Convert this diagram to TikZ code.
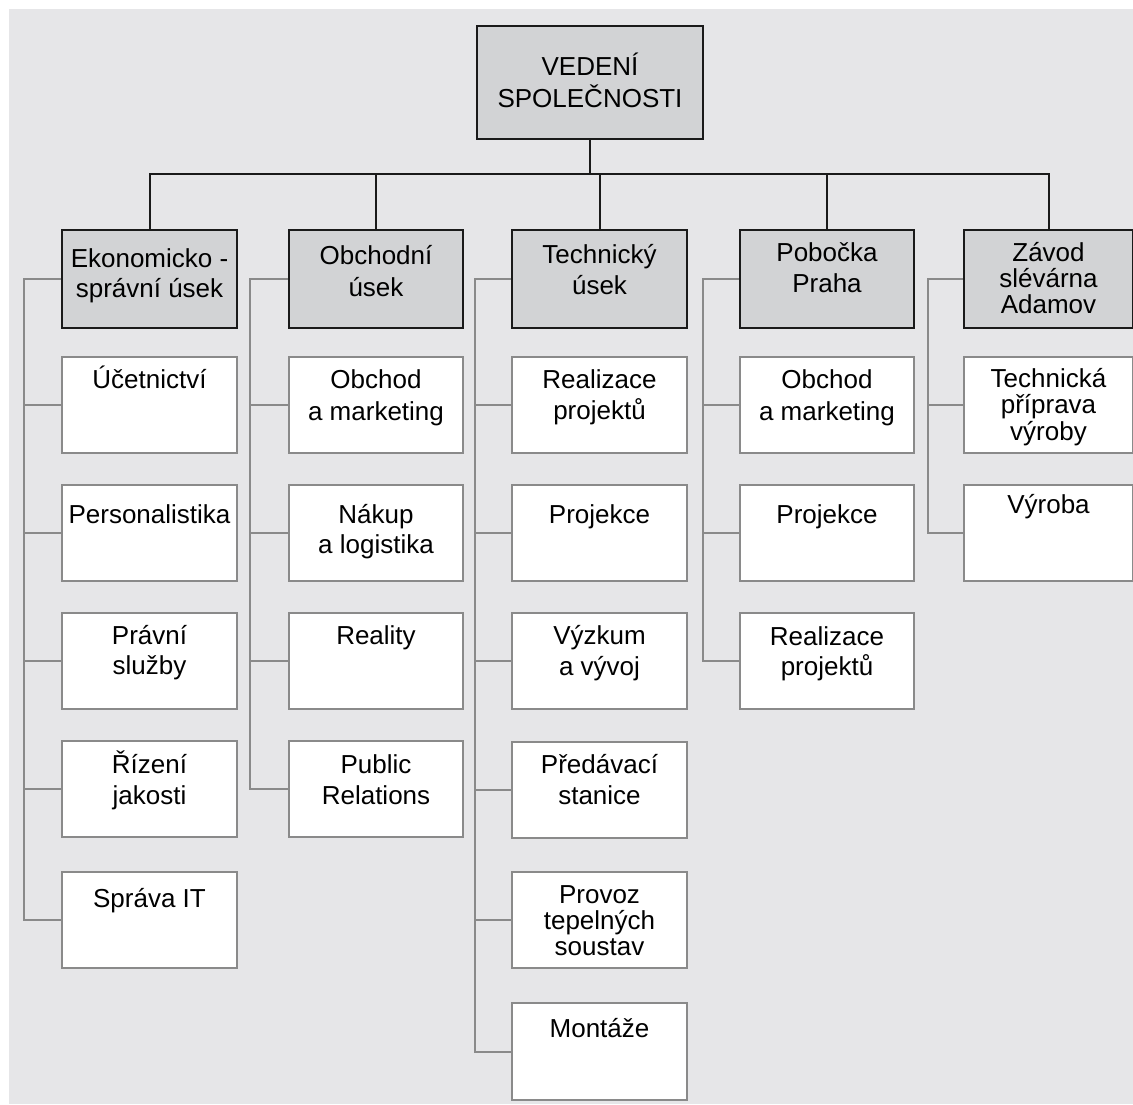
\documentclass[tikz,border=0pt]{standalone}
\usepackage{fontspec}
\setmainfont{Liberation Sans}
\definecolor{bggrey}{HTML}{E6E6E8}
\definecolor{hdfill}{HTML}{D2D3D5}
\definecolor{lgrey}{HTML}{8A8A8A}
\definecolor{dark}{HTML}{1A1A1A}
% #1 height, #2 width, #3 first baseline, #4 line spacing, #5 text
\newcommand{\tb}[5]{\parbox[t][#1][t]{#2}{\centering\fontsize{26pt}{#4}\selectfont\rule{0pt}{#3}#5}}
\begin{document}
\begin{tikzpicture}[x=1pt,y=-1pt,
  hbox/.style={draw=dark, fill=hdfill, line width=2pt, inner sep=0pt, anchor=north west},
  cbox/.style={draw=lgrey, fill=white, line width=2pt, inner sep=0pt, anchor=north west},
  mainline/.style={draw=dark, line width=2pt},
  brline/.style={draw=lgrey, line width=2pt}]
\useasboundingbox (0,0) rectangle (1133,1104);
\fill[bggrey] (9,9) rectangle (1133,1104);

% top
\node[hbox] (top) at (476,25) {\tb{113pt}{226pt}{49pt}{32pt}{VEDENÍ\\SPOLEČNOSTI}};

% level 1
\node[hbox] (e) at (61,229)  {\tb{98pt}{175pt}{37pt}{30pt}{Ekonomicko -\\správní úsek}};
\node[hbox] (o) at (288,229) {\tb{98pt}{174pt}{34pt}{32pt}{Obchodní\\úsek}};
\node[hbox] (t) at (511,229) {\tb{98pt}{175pt}{33pt}{31pt}{Technický\\úsek}};
\node[hbox] (p) at (739,229) {\tb{98pt}{174pt}{31pt}{31pt}{Pobočka\\Praha}};
\node[hbox] (z) at (963,229) {\tb{98pt}{169pt}{31pt}{26pt}{Závod\\slévárna\\Adamov}};

% Ekonomicko-správní úsek
\node[cbox] (e1) at (61,356) {\tb{96pt}{175pt}{31pt}{31pt}{Účetnictví}};
\node[cbox] (e2) at (61,484) {\tb{96pt}{175pt}{38pt}{31pt}{Personalistika}};
\node[cbox] (e3) at (61,612) {\tb{96pt}{175pt}{31pt}{30pt}{Právní\\služby}};
\node[cbox] (e4) at (61,740) {\tb{96pt}{175pt}{32pt}{31pt}{Řízení\\jakosti}};
\node[cbox] (e5) at (61,871) {\tb{96pt}{175pt}{35pt}{31pt}{Správa IT}};

% Obchodní úsek
\node[cbox] (o1) at (288,356) {\tb{96pt}{174pt}{31pt}{32pt}{Obchod\\a marketing}};
\node[cbox] (o2) at (288,484) {\tb{96pt}{174pt}{38pt}{30pt}{Nákup\\a logistika}};
\node[cbox] (o3) at (288,612) {\tb{96pt}{174pt}{31pt}{31pt}{Reality}};
\node[cbox] (o4) at (288,740) {\tb{96pt}{174pt}{32pt}{31pt}{Public\\Relations}};

% Technický úsek
\node[cbox] (t1) at (511,356) {\tb{96pt}{175pt}{31pt}{31pt}{Realizace\\projektů}};
\node[cbox] (t2) at (511,484) {\tb{96pt}{175pt}{38pt}{31pt}{Projekce}};
\node[cbox] (t3) at (511,612) {\tb{96pt}{175pt}{31pt}{31pt}{Výzkum\\a vývoj}};
\node[cbox] (t4) at (511,741) {\tb{96pt}{175pt}{31pt}{31pt}{Předávací\\stanice}};
\node[cbox] (t5) at (511,871) {\tb{96pt}{175pt}{31pt}{26pt}{Provoz\\tepelných\\soustav}};
\node[cbox] (t6) at (511,1002) {\tb{97pt}{175pt}{34pt}{31pt}{Montáže}};

% Pobočka Praha
\node[cbox] (p1) at (739,356) {\tb{96pt}{174pt}{31pt}{32pt}{Obchod\\a marketing}};
\node[cbox] (p2) at (739,484) {\tb{96pt}{174pt}{38pt}{31pt}{Projekce}};
\node[cbox] (p3) at (739,612) {\tb{96pt}{174pt}{32pt}{30pt}{Realizace\\projektů}};

% Závod slévárna Adamov
\node[cbox] (z1) at (963,356) {\tb{96pt}{169pt}{30pt}{26.5pt}{Technická\\příprava\\výroby}};
\node[cbox] (z2) at (963,484) {\tb{96pt}{169pt}{28pt}{31pt}{Výroba}};

% main connectors
\coordinate (bus) at (0,174);
\draw[mainline] (top.south) -- (top.south |- bus);
\draw[mainline] (e.north) -- (e.north |- bus) -| (z.north);
\foreach \n in {o,t,p} \draw[mainline] (\n.north) -- (\n.north |- bus);

% brackets
\coordinate (eb) at (24,0);
\coordinate (ob) at (250,0);
\coordinate (tb) at (475,0);
\coordinate (pb) at (703,0);
\coordinate (zb) at (928,0);
\draw[brline] (e.west) -| (eb |- e5.west) -- (e5.west);
\foreach \i in {1,...,4} \draw[brline] (e\i.west) -- (e\i.west -| eb);
\draw[brline] (o.west) -| (ob |- o4.west) -- (o4.west);
\foreach \i in {1,...,3} \draw[brline] (o\i.west) -- (o\i.west -| ob);
\draw[brline] (t.west) -| (tb |- t6.west) -- (t6.west);
\foreach \i in {1,...,5} \draw[brline] (t\i.west) -- (t\i.west -| tb);
\draw[brline] (p.west) -| (pb |- p3.west) -- (p3.west);
\foreach \i in {1,...,2} \draw[brline] (p\i.west) -- (p\i.west -| pb);
\draw[brline] (z.west) -| (zb |- z2.west) -- (z2.west);
\draw[brline] (z1.west) -- (z1.west -| zb);
\end{tikzpicture}
\end{document}
